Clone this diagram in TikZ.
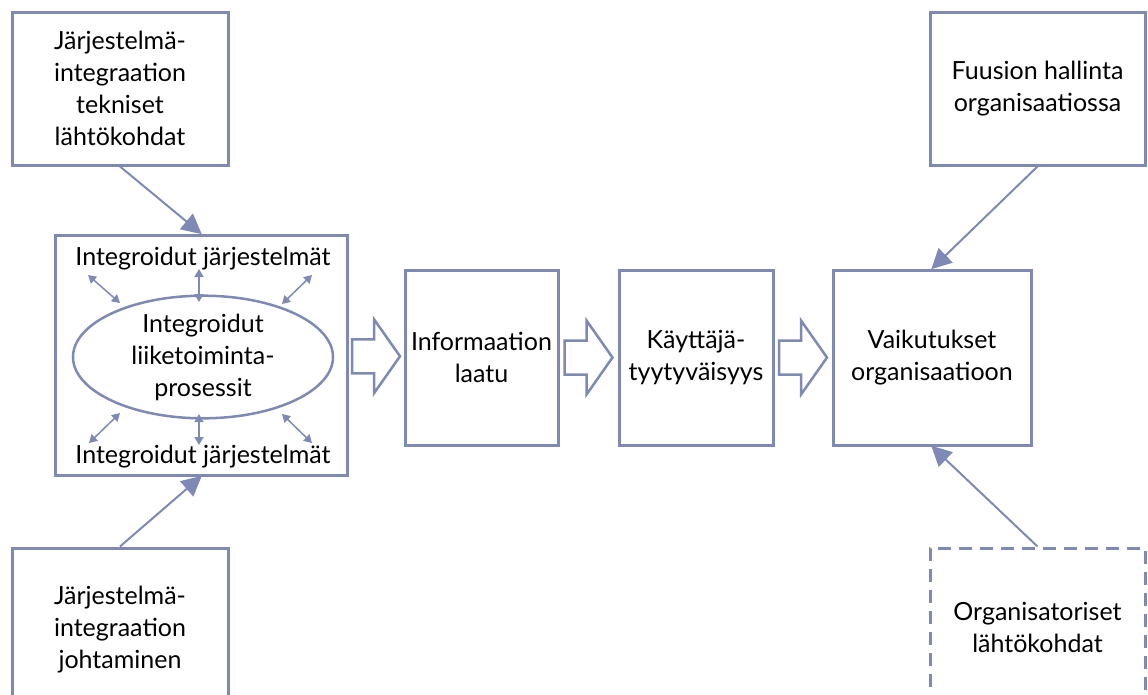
\documentclass[tikz,border=0pt]{standalone}
\usepackage{fontspec}
\setmainfont{Lato}
\usetikzlibrary{arrows.meta,calc,shapes.geometric}
\definecolor{frame}{RGB}{127,137,181}
\begin{document}
\begin{tikzpicture}[x=1pt,y=-1pt,
  lbl/.style={font=\fontsize{25}{32}\selectfont,align=center,text=black},
  box/.style={draw=frame,line width=3pt,fill=white,rectangle,lbl},
  dbox/.style={box,dash pattern=on 13pt off 8pt},
  conn/.style={draw=frame,line width=2pt,-{Triangle[length=20pt,width=20pt]},shorten >=-1pt},
  link/.style={draw=frame,line width=1.5pt,{Triangle[length=8pt,width=9pt]}-{Triangle[length=8pt,width=9pt]}},
  barrow/.pic={\draw[frame,line width=2.5pt,fill=white,line join=miter]
      (0,-17) -- (22,-17) -- (22,-37) -- (48,0) -- (22,37) -- (22,17) -- (0,17) -- cycle;}
]
\clip (0,0) rectangle (1148,694);
\fill[white] (0,0) rectangle (1148,694);

% input boxes on the left
\node[box,minimum width=216pt,minimum height=153pt] (tl) at (120,88.5)
  {Järjestelmä-\\integraation\\tekniset\\lähtökohdat};
\node[box,minimum width=216pt,minimum height=164pt] (bl) at (120,630)
  {Järjestelmä-\\integraation\\johtaminen};

% integrated systems box with the process ellipse
\node[box,minimum width=292pt,minimum height=240pt] (big) at (201,355) {};
\node[draw=frame,line width=2.5pt,ellipse,minimum width=260pt,minimum height=110pt,lbl,inner sep=0pt] (proc) at (203,357)
  {Integroidut\\liiketoiminta-\\prosessit};
\node[lbl] (systop) at (203,259) {Integroidut järjestelmät};
\node[lbl] (sysbot) at (203,457) {Integroidut järjestelmät};

\coordinate (t1) at (88,275);  \coordinate (p1) at (120,303);
\coordinate (t2) at (199,269); \coordinate (p2) at (199,302);
\coordinate (t3) at (312,275); \coordinate (p3) at (282,304);
\coordinate (b1) at (89,443);  \coordinate (q1) at (120,413);
\coordinate (b2) at (199,445); \coordinate (q2) at (199,414);
\coordinate (b3) at (312,443); \coordinate (q3) at (282,414);
\draw[link] (t1) -- (p1);
\draw[link] (t2) -- (p2);
\draw[link] (t3) -- (p3);
\draw[link] (b1) -- (q1);
\draw[link] (b2) -- (q2);
\draw[link] (b3) -- (q3);

% main chain
\node[box,minimum width=153pt,minimum height=175pt] (info) at (481.5,357.5) {Informaation\\laatu};
\node[box,minimum width=154pt,minimum height=175pt] (kayt) at (696,357.5) {Käyttäjä-\\tyytyväisyys};
\node[box,minimum width=198pt,minimum height=175pt] (vaik) at (932,357.5) {Vaikutukset\\organisaatioon};

% right-hand inputs
\node[box,minimum width=215pt,minimum height=153pt] (fuus) at (1037.5,88.5) {Fuusion hallinta\\organisaatiossa};
\node[dbox,minimum width=215pt,minimum height=158pt] (org) at (1037.5,627) {Organisatoriset\\lähtökohdat};

% block arrows between the chain boxes
\path ($(big.east)!0.5!(info.west)$) ++(-24,0) pic {barrow};
\path ($(info.east)!0.5!(kayt.west)$) ++(-24,0) pic {barrow};
\path ($(kayt.east)!0.5!(vaik.west)$) ++(-24,0) pic {barrow};

% influence connectors
\draw[conn] (tl.south) -- (big.north);
\draw[conn] (bl.north) -- (big.south);
\draw[conn] (fuus.south) -- (vaik.north);
\draw[conn] (org.north) -- (vaik.south);
\end{tikzpicture}
\end{document}
